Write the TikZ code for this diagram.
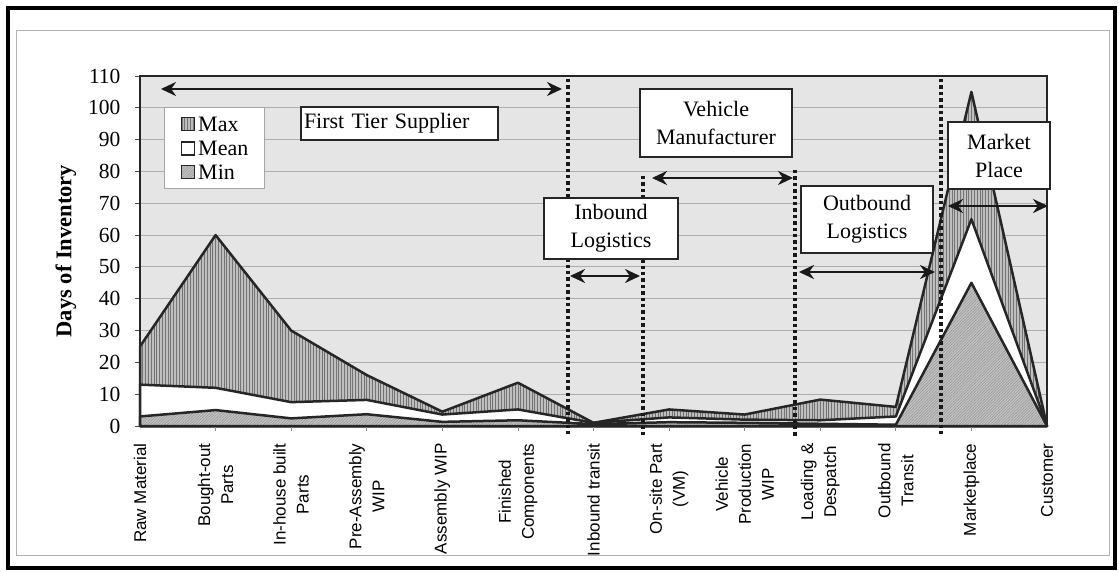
\documentclass[tikz,border=0pt]{standalone}
\usepackage{fontspec}
\setmainfont{Liberation Serif}
\newfontfamily\axisfont{Liberation Sans}
\usetikzlibrary{patterns,patterns.meta,arrows.meta}

\begin{document}
\begin{tikzpicture}[x=1pt,y=-1pt,
  plotbg/.style={fill=black!10},
  gridline/.style={black!32,line width=0.9pt},
  series/.style={draw=black!85,line width=2.5pt,line join=round},
  maxfill/.style={preaction={fill=black!25},
    pattern={Lines[angle=90,distance=2.8pt,line width=0.9pt]},pattern color=black!55},
  minfill/.style={preaction={fill=black!24},
    pattern={Lines[angle=45,distance=2pt,line width=0.5pt]},pattern color=black!42},
  meanfill/.style={fill=white},
  dotline/.style={line width=3.4pt,dash pattern=on 3.4pt off 3pt,black!90},
  dbl/.style={line width=2.8pt,black!90,{Stealth[length=15pt,width=14pt]}-{Stealth[length=15pt,width=14pt]}},
  labelbox/.style={draw=black!85,line width=1.7pt,fill=white,align=center,
    font=\fontsize{22}{28}\selectfont,inner sep=0pt},
  ticklab/.style={anchor=east,font=\fontsize{21.5}{21.5}\selectfont},
  catlab/.style={rotate=90,anchor=east,align=center,
    font=\axisfont\fontsize{17}{23}\selectfont},
  swatch/.style={draw=black!85,line width=1.4pt,minimum size=13pt,inner sep=0pt},
  legtext/.style={anchor=west,font=\fontsize{22}{24}\selectfont,inner sep=0pt}
]
\useasboundingbox (0,0) rectangle (1119,572);

% frame of the figure
\draw[line width=4.8pt] (8,8) rectangle (1115,568);
\draw[black!30,line width=0.8pt] (16,30) rectangle (1109,555);

% plot area and gridlines
\fill[plotbg] (140,76) rectangle (1047,426);
\foreach \v in {10,20,...,100}
  \draw[gridline] (140,{426-\v*3.1818}) -- (1047,{426-\v*3.1818});

% y axis ticks and labels
\foreach \v in {0,10,...,110}{
  \draw[black!70,line width=0.8pt] (135,{426-\v*3.1818}) -- (140,{426-\v*3.1818});
  \node[ticklab] (ytick\v) at (124,{426-\v*3.1818}) {\v};
}
\node[rotate=90,font=\bfseries\fontsize{22.5}{22.5}\selectfont] (ylabel) at (66,251) {Days of Inventory};

% data series, in category / day units
\begin{scope}[shift={(140,426)},x=75.583pt,y=3.1818pt]
  \path[series,maxfill] (0,0) -- (0,25) -- (1,60) -- (2,30) -- (3,16) -- (4,4.5)
    -- (5,13.6) -- (6,1) -- (7,5.2) -- (8,3.6) -- (9,8.3) -- (10,6) -- (11,105)
    -- (12,0) -- cycle;
  \path[series,meanfill] (0,0) -- (0,13) -- (1,12) -- (2,7.5) -- (3,8.2) -- (4,3.6)
    -- (5,5.2) -- (6,1) -- (7,2.7) -- (8,2) -- (9,1.8) -- (10,3) -- (11,65)
    -- (12,0) -- cycle;
  \path[series,minfill] (0,0) -- (0,3) -- (1,5) -- (2,2.4) -- (3,3.7) -- (4,1.3)
    -- (5,1.8) -- (6,0.6) -- (7,1.2) -- (8,1) -- (9,0.7) -- (10,0.4) -- (11,45)
    -- (12,0) -- cycle;
  \foreach \i in {1,...,11}
    \draw[black!45,line width=0.8pt] (\i,0) -- ++(0,-1.6);
\end{scope}

% plot border
\draw[black!85,line width=1.4pt] (140,76) rectangle (1047,426);

% category labels
\foreach \i/\t in {0/{Raw Material},1/{Bought-out\\Parts},2/{In-house built\\Parts},
    3/{Pre-Assembly\\WIP},4/{Assembly WIP},5/{Finished\\Components},6/{Inbound transit},
    7/{On-site Part\\(VM)},8/{Vehicle\\Production\\WIP},9/{Loading \&\\Despatch},
    10/{Outbound\\Transit},11/{Marketplace},12/{Customer}}
  \node[catlab] (cat\i) at ({140+\i*75.583},440) {\t};

% stage boundaries
\coordinate (d1t) at (568,79);  \coordinate (d1b) at (568,437);
\coordinate (d2t) at (643,176); \coordinate (d2b) at (643,437);
\coordinate (d3t) at (795,170); \coordinate (d3b) at (795,437);
\coordinate (d4t) at (941,79);  \coordinate (d4b) at (941,437);
\draw[dotline] (d1t) -- (d1b);
\draw[dotline] (d2t) -- (d2b);
\draw[dotline] (d3t) -- (d3b);
\draw[dotline] (d4t) -- (d4b);

% legend
\node[draw=black!35,line width=0.8pt,fill=white,minimum width=100pt,minimum height=81pt,inner sep=0pt] (legend) at (214,147.5) {};
\node[swatch,maxfill] (smax) at (188,124) {};
\node[swatch,meanfill] (smean) at (188,148.5) {};
\node[swatch,minfill] (smin) at (188,172) {};
\node[legtext] (lmax) at (198,124) {Max};
\node[legtext] (lmean) at (198,148.5) {Mean};
\node[legtext] (lmin) at (198,172) {Min};

% stage labels
\node[labelbox,minimum height=33pt,text width=191pt,inner xsep=3pt,align=left] (fts) at (399.5,123.5) {First Tier Supplier};
\node[labelbox,minimum width=152pt,minimum height=68pt] (vm) at (716,123) {Vehicle\\Manufacturer};
\node[labelbox,minimum width=134pt,minimum height=61pt] (inb) at (611,228.5) {Inbound\\Logistics};
\node[labelbox,minimum width=132pt,minimum height=67pt] (outb) at (867,219.5) {Outbound\\Logistics};
\node[labelbox,minimum width=102pt,minimum height=67pt] (mkt) at (999,155.5) {Market\\Place};

% stage extents
\coordinate (a1l) at (161,89);  \coordinate (a1r) at (562,89);
\coordinate (a2l) at (570,276); \coordinate (a2r) at (640,276);
\coordinate (a3l) at (652,178); \coordinate (a3r) at (793,178);
\coordinate (a4l) at (799,272); \coordinate (a4r) at (935,272);
\coordinate (a5l) at (948,206); \coordinate (a5r) at (1048,206);
\draw[dbl] (a1l) -- (a1r);
\draw[dbl] (a2l) -- (a2r);
\draw[dbl] (a3l) -- (a3r);
\draw[dbl] (a4l) -- (a4r);
\draw[dbl] (a5l) -- (a5r);
\end{tikzpicture}
\end{document}
